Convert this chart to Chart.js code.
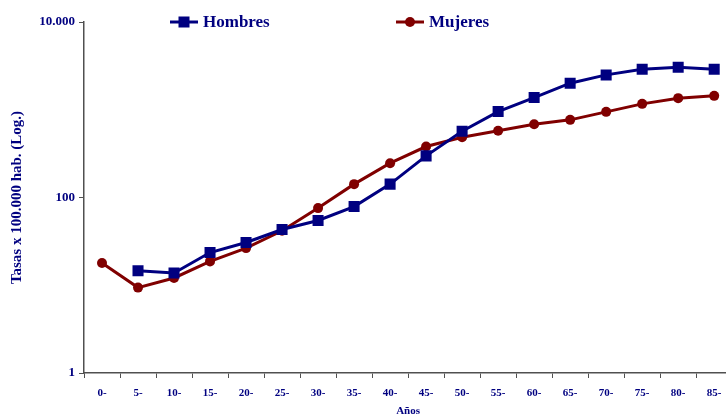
<!DOCTYPE html>
<html>
<head>
<meta charset="utf-8">
<script src="https://cdn.jsdelivr.net/npm/chart.js@4.4.0/dist/chart.umd.min.js"></script>
<style>
    html, body { margin: 0; padding: 0; background: #fff; overflow: hidden; }
    #wrap { position: relative; width: 740px; height: 418px; }
</style>
</head>
<body>
<div id="wrap"><canvas id="myChart"></canvas></div>
<script>
var ageGroups = ['0-', '5-', '10-', '15-', '20-', '25-', '30-', '35-', '40-', '45-', '50-', '55-', '60-', '65-', '70-', '75-', '80-', '85-'];
var hombres = [null, 14.6, 13.8, 23.6, 30.7, 43.2, 54.7, 78.9, 142, 298, 570, 953, 1377, 2009, 2496, 2899, 3055, 2899];
var mujeres = [17.9, 9.4, 12.1, 18.7, 26.5, 41.8, 75.7, 142, 246, 381, 485, 575, 685, 767, 946, 1167, 1356, 1440];
var yTickValues = [1, 100, 10000];
var yTickLabels = ['1', '100', '10.000'];

var navy = '#000080',
    maroon = '#800000',
    axisColor = '#505050',
    serif = "'Liberation Serif', 'Times New Roman', serif";

// legend drawn by hand: line with marker, like the original
var legendPlugin = {
    id: 'handLegend',
    afterDraw: function(chart) {
        var ctx = chart.ctx,
            items = [
                { ds: chart.data.datasets[0], x: 170, y: 22 },
                { ds: chart.data.datasets[1], x: 396, y: 22 }
            ];

        ctx.save();
        items.forEach(function(it) {
            ctx.strokeStyle = it.ds.borderColor;
            ctx.lineWidth = 3;
            ctx.beginPath();
            ctx.moveTo(it.x, it.y);
            ctx.lineTo(it.x + 28, it.y);
            ctx.stroke();

            ctx.fillStyle = it.ds.borderColor;
            if (it.ds.pointStyle === 'rect') {
                ctx.fillRect(it.x + 14 - 5.5, it.y - 5.5, 11, 11);
            } else {
                ctx.beginPath();
                ctx.arc(it.x + 14, it.y, 5, 0, Math.PI * 2);
                ctx.fill();
            }

            ctx.fillStyle = navy;
            ctx.font = 'bold 17px ' + serif;
            ctx.textBaseline = 'middle';
            ctx.textAlign = 'left';
            ctx.fillText(it.ds.label, it.x + 33, it.y + 1);
        });
        ctx.restore();
    }
};

var chart = new Chart(document.getElementById('myChart'), {
    type: 'line',
    data: {
        labels: ageGroups,
        datasets: [
            {
                label: 'Hombres',
                data: hombres,
                borderColor: navy,
                backgroundColor: navy,
                borderWidth: 3,
                pointStyle: 'rect',
                pointRadius: 7.8,
                pointHoverRadius: 7.8,
                pointBorderWidth: 0,
                spanGaps: false,
                tension: 0
            },
            {
                label: 'Mujeres',
                data: mujeres,
                borderColor: maroon,
                backgroundColor: maroon,
                borderWidth: 3,
                pointStyle: 'circle',
                pointRadius: 5,
                pointHoverRadius: 5,
                pointBorderWidth: 0,
                tension: 0
            }
        ]
    },
    options: {
        responsive: true,
        maintainAspectRatio: false,
        animation: false,
        layout: { padding: { top: 22, right: 0, bottom: 0, left: 0 } },
        plugins: {
            legend: { display: false },
            tooltip: { enabled: false }
        },
        scales: {
            x: {
                type: 'category',
                offset: true,
                grid: {
                    offset: true,
                    drawOnChartArea: false,
                    drawTicks: true,
                    tickLength: 5,
                    color: axisColor
                },
                border: { display: true, color: axisColor, width: 1.5 },
                ticks: {
                    color: navy,
                    padding: 9,
                    maxRotation: 0,
                    autoSkip: false,
                    font: { family: serif, size: 11, weight: 'bold' }
                },
                title: {
                    display: true,
                    text: 'Años',
                    color: navy,
                    padding: 0,
                    font: { family: serif, size: 11, weight: 'bold' }
                },
                afterFit: function(scale) { scale.height = 45; }
            },
            y: {
                type: 'logarithmic',
                min: 1,
                max: 10000,
                grid: {
                    drawOnChartArea: false,
                    drawTicks: true,
                    tickLength: 5,
                    color: axisColor
                },
                border: { display: true, color: axisColor, width: 1.5 },
                afterBuildTicks: function(scale) {
                    scale.ticks = yTickValues.map(function(v) { return { value: v }; });
                },
                ticks: {
                    color: navy,
                    padding: 4,
                    font: { family: serif, size: 13, weight: 'bold' },
                    callback: function(value) {
                        var i = yTickValues.indexOf(value);
                        return i >= 0 ? yTickLabels[i] : '';
                    }
                },
                title: {
                    display: true,
                    text: 'Tasas x 100.000 hab. (Log.)',
                    color: navy,
                    padding: { top: 8, bottom: 0 },
                    font: { family: serif, size: 15, weight: 'bold' }
                },
                afterFit: function(scale) { scale.width = 84; }
            }
        }
    },
    plugins: [legendPlugin]
});
</script>
</body>
</html>
